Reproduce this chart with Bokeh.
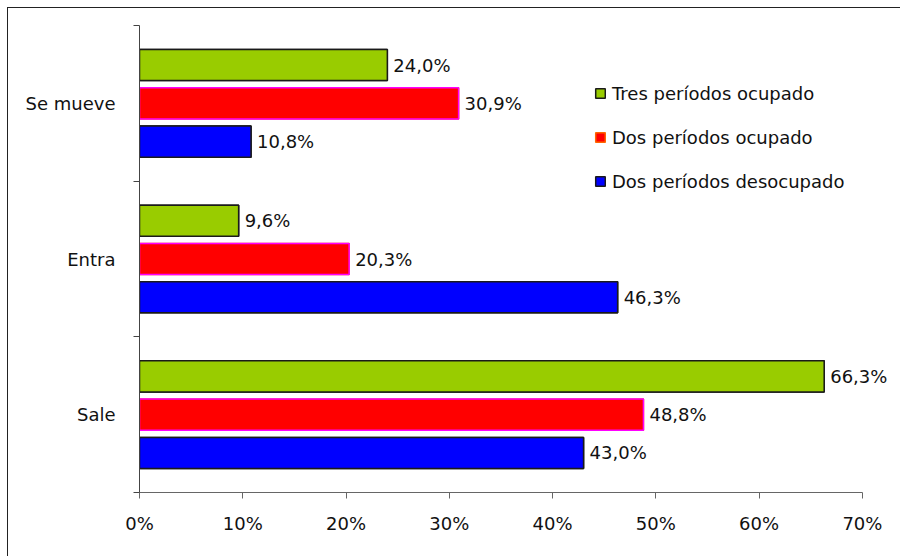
from bokeh.plotting import figure
from bokeh.models import ColumnDataSource, FixedTicker, PrintfTickFormatter, Legend, LegendItem, Range1d
from bokeh.embed import file_html
from bokeh.resources import INLINE
from bokeh.core.properties import value

# categories listed bottom to top
categories = ["Sale", "Entra", "Se mueve"]
series_names = ["Tres períodos ocupado", "Dos períodos ocupado", "Dos períodos desocupado"]
tres_ocupado = [66.3, 9.6, 24.0]
dos_ocupado = [48.8, 20.3, 30.9]
dos_desocupado = [43.0, 46.3, 10.8]
x_ticks = [0, 10, 20, 30, 40, 50, 60, 70]

series_values = [tres_ocupado, dos_ocupado, dos_desocupado]
fills = ["#99CC00", "#FF0000", "#0000FF"]
lines = ["#1a1a1a", "#FF00FF", "#1a1a1a"]
legend_lines = ["#1a1a1a", "#FF6600", "#1a1a1a"]
offsets = [0.246, 0.0, -0.246]
bar_h = 0.2

FONT = "DejaVu Sans"
FS = "18px"

p = figure(width=893, height=549, output_backend="svg", toolbar_location=None,
           x_range=Range1d(0, 73.4), y_range=Range1d(0, 3),
           min_border_left=131, min_border_right=4, min_border_top=17, min_border_bottom=65,
           styles={"margin-left": "7px", "margin-top": "7px",
                   "border-top": "1.5px solid #222", "border-left": "1.5px solid #222",
                   "border-right": "0", "border-bottom": "0"})
p.outline_line_color = None
p.grid.visible = False

items = []
for name, vals, fc, lc, llc, off in zip(series_names, series_values, fills, lines, legend_lines, offsets):
    ys = [i + 0.5 + off for i in range(len(categories))]
    labels = [("%.1f%%" % v).replace(".", ",") for v in vals]
    src = ColumnDataSource(dict(y=ys, right=vals, label=labels))
    # legend key renderer (same bars, fully covered by the bars drawn next)
    key = p.hbar(y="y", left=0, right="right", height=bar_h, source=src,
                 fill_color=fc, line_color=llc, line_width=1.5)
    p.hbar(y="y", left=0, right="right", height=bar_h, source=src,
           fill_color=fc, line_color=lc, line_width=1.5)
    p.text(x="right", y="y", text="label", source=src, x_offset=6,
           text_baseline="middle", text_align="left",
           text_font=value(FONT), text_font_size=FS, text_color="#111111")
    items.append(LegendItem(label=name, renderers=[key]))

# x axis
xa = p.xaxis[0]
xa.bounds = (0, 70)
xa.ticker = FixedTicker(ticks=x_ticks, minor_ticks=[])
xa.formatter = PrintfTickFormatter(format="%d%%")
xa.axis_line_color = "#666666"
xa.major_tick_line_color = "#666666"
xa.major_tick_in = 0
xa.major_tick_out = 6
xa.minor_tick_line_color = None
xa.major_label_text_font = FONT
xa.major_label_text_font_size = FS
xa.major_label_text_color = "#111111"
xa.major_label_standoff = 14

# y axis
ya = p.yaxis[0]
centers = [i + 0.5 for i in range(len(categories))]
ya.ticker = FixedTicker(ticks=centers, minor_ticks=[0, 1, 2, 3])
ya.major_label_overrides = {c: cat for c, cat in zip(centers, categories)}
ya.axis_line_color = "#444444"
ya.major_tick_line_color = None
ya.major_tick_in = 0
ya.major_tick_out = 0
ya.minor_tick_line_color = "#444444"
ya.minor_tick_in = 0
ya.minor_tick_out = 6
ya.major_label_text_font = FONT
ya.major_label_text_font_size = FS
ya.major_label_text_color = "#111111"
ya.major_label_standoff = 18

legend = Legend(items=items,
                location=(455, 300), padding=0, margin=0, spacing=22,
                glyph_width=12, glyph_height=12, label_height=22, label_standoff=6,
                label_text_font=FONT, label_text_font_size=FS, label_text_color="#111111",
                border_line_color=None, background_fill_alpha=0)
p.add_layout(legend, "center")

open("out.html", "w").write(file_html(p, INLINE))
